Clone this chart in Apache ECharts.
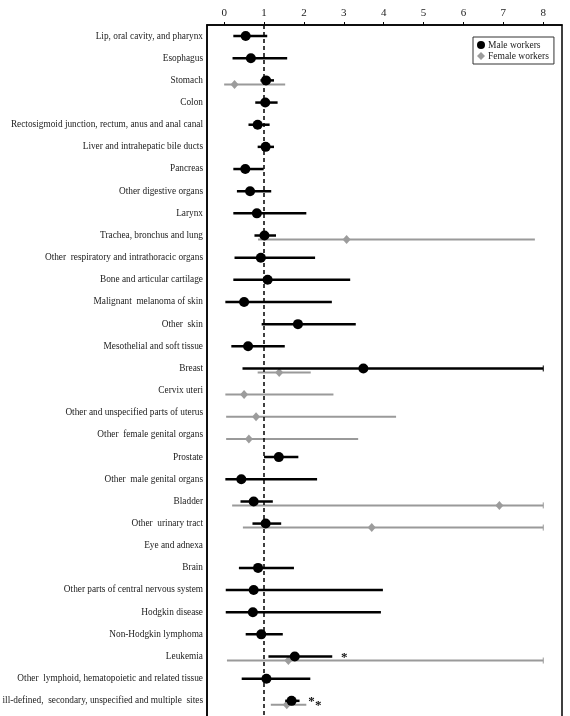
<!DOCTYPE html>
<html>
<head>
<meta charset="utf-8">
<script src="https://cdn.jsdelivr.net/npm/echarts@6/dist/echarts.min.js"></script>
<style>
  html, body { margin: 0; padding: 0; background: #fff; }
  #main { width: 570px; height: 716px; }
</style>
</head>
<body>
<div id="main"></div>
<script>
var categories = [
  'Lip, oral cavity, and pharynx',
  'Esophagus',
  'Stomach',
  'Colon',
  'Rectosigmoid junction, rectum, anus and anal canal',
  'Liver and intrahepatic bile ducts',
  'Pancreas',
  'Other digestive organs',
  'Larynx',
  'Trachea, bronchus and lung',
  'Other  respiratory and intrathoracic organs',
  'Bone and articular cartilage',
  'Malignant  melanoma of skin',
  'Other  skin',
  'Mesothelial and soft tissue',
  'Breast',
  'Cervix uteri',
  'Other and unspecified parts of uterus',
  'Other  female genital organs',
  'Prostate',
  'Other  male genital organs',
  'Bladder',
  'Other  urinary tract',
  'Eye and adnexa',
  'Brain',
  'Other parts of central nervous system',
  'Hodgkin disease',
  'Non-Hodgkin lymphoma',
  'Leukemia',
  'Other  lymphoid, hematopoietic and related tissue',
  'Other, ill-defined,  secondary, unspecified and multiple  sites'
];

var xTicks = [0, 1, 2, 3, 4, 5, 6, 7, 8];

// male workers: estimate, lower and upper limit (upper of 8 = cut at the axis end)
var maleEst  = [0.54, 0.67, 1.05, 1.03, 0.84, 1.04, 0.53, 0.65, 0.82, 1.01, 0.92, 1.09, 0.50, 1.85, 0.60, 3.49, null, null, null, 1.37, 0.43, 0.74, 1.04, null, 0.85, 0.74, 0.72, 0.93, 1.77, 1.06, 1.69];
var maleLow  = [0.23, 0.21, 0.91, 0.78, 0.61, 0.84, 0.23, 0.32, 0.23, 0.76, 0.26, 0.23, 0.03, 0.94, 0.18, 0.46, null, null, null, 1.00, 0.03, 0.41, 0.71, null, 0.37, 0.04, 0.04, 0.54, 1.11, 0.44, 1.53];
var maleHigh = [1.08, 1.58, 1.25, 1.34, 1.14, 1.25, 0.99, 1.18, 2.06, 1.30, 2.28, 3.16, 2.70, 3.30, 1.52, 8.00, null, null, null, 1.86, 2.33, 1.22, 1.43, null, 1.75, 3.98, 3.93, 1.47, 2.71, 2.16, 1.89];
var maleSig  = [0, 0, 0, 0, 0, 0, 0, 0, 0, 0, 0, 0, 0, 0, 0, 0, 0, 0, 0, 0, 0, 0, 0, 0, 0, 0, 0, 0, 1, 0, 1];

// female workers
var femaleEst  = [null, null, 0.26, null, null, null, null, null, null, 3.07, null, null, null, null, null, 1.38, 0.50, 0.80, 0.62, null, null, 6.90, 3.70, null, null, null, null, null, 1.61, null, 1.57];
var femaleLow  = [null, null, 0.00, null, null, null, null, null, null, 0.85, null, null, null, null, null, 0.84, 0.03, 0.05, 0.05, null, null, 0.20, 0.47, null, null, null, null, null, 0.07, null, 1.17];
var femaleHigh = [null, null, 1.53, null, null, null, null, null, null, 7.79, null, null, null, null, null, 2.17, 2.74, 4.31, 3.36, null, null, 8.00, 8.00, null, null, null, null, null, 8.00, null, 2.06];
var femaleSig  = [0, 0, 0, 0, 0, 0, 0, 0, 0, 0, 0, 0, 0, 0, 0, 0, 0, 0, 0, 0, 0, 0, 0, 0, 0, 0, 0, 0, 0, 0, 1];

var serif = "'Liberation Serif', 'Times New Roman', serif";

function points(est) {
  var out = [];
  est.forEach(function (v, i) { if (v != null) out.push([v, i + 1]); });
  return out;
}
function bars(lo, hi, sig) {
  var out = [];
  lo.forEach(function (v, i) { if (v != null) out.push([v, hi[i], i + 1, sig[i]]); });
  return out;
}

function whisker(color, width, offset) {
  return function (params, api) {
    var a = api.coord([api.value(0), api.value(2)]);
    var b = api.coord([api.value(1), api.value(2)]);
    var y = a[1] + offset;
    var kids = [{
      type: 'line',
      shape: { x1: a[0], y1: y, x2: b[0], y2: y },
      style: { stroke: color, lineWidth: width }
    }];
    if (api.value(1) >= 8) {
      kids.push({
        type: 'line',
        shape: { x1: b[0], y1: y - 3, x2: b[0], y2: y + 3 },
        style: { stroke: color, lineWidth: 1 }
      });
    }
    if (api.value(3)) {
      kids.push({
        type: 'text',
        x: b[0] + 12, y: y + 1,
        style: { text: '*', fill: '#111', font: 'bold 13px ' + serif, align: 'center', verticalAlign: 'middle' }
      });
    }
    return { type: 'group', children: kids };
  };
}

var chart = echarts.init(document.getElementById('main'));
chart.setOption({
  animation: false,
  grid: {
    left: 207, top: 25, width: 355, height: 698,
    show: true, borderColor: '#000', borderWidth: 1.5,
    containLabel: false, outerBoundsMode: 'none'
  },
  legend: {
    left: 473, top: 37,
    orient: 'vertical',
    data: ['Male workers', 'Female workers'],
    itemWidth: 8, itemHeight: 8, itemGap: 1,
    padding: [3, 5, 3, 4],
    borderColor: '#333', borderWidth: 1,
    textStyle: { fontFamily: serif, fontSize: 9.5, color: '#222', padding: [0, 0, 0, -2] }
  },
  xAxis: {
    type: 'value', position: 'top',
    min: -0.43, max: 8.47,
    axisLine: { show: true, onZero: false, lineStyle: { color: '#000', width: 1.5 } },
    axisTick: { show: true, customValues: xTicks, length: 3, lineStyle: { color: '#000' } },
    axisLabel: { customValues: xTicks, margin: 6, fontFamily: serif, fontSize: 11, color: '#222' },
    splitLine: { show: false }
  },
  yAxis: {
    type: 'value', inverse: true,
    min: 0.5, max: 32,
    axisLine: { show: true, onZero: false, lineStyle: { color: '#000', width: 1.5 } },
    axisTick: { show: false },
    axisLabel: {
      customValues: categories.map(function (c, i) { return i + 1; }),
      formatter: function (v) { return categories[v - 1]; },
      margin: 4, fontFamily: serif, fontSize: 9.3, color: '#222'
    },
    splitLine: { show: false }
  },
  series: [
    {
      type: 'custom', name: 'femaleCI', silent: true, z: 2,
      renderItem: whisker('#9a9a9a', 2, 4),
      data: bars(femaleLow, femaleHigh, femaleSig)
    },
    {
      type: 'scatter', name: 'Female workers', z: 3,
      symbol: 'diamond', symbolSize: [8, 9], symbolOffset: [0, 4],
      itemStyle: { color: '#9c9c9c', opacity: 1 },
      data: points(femaleEst)
    },
    {
      type: 'custom', name: 'maleCI', silent: true, z: 4,
      renderItem: whisker('#000', 2.5, 0),
      data: bars(maleLow, maleHigh, maleSig)
    },
    {
      type: 'scatter', name: 'Male workers', z: 5,
      symbol: 'circle', symbolSize: 10,
      itemStyle: { color: '#000', opacity: 1 },
      data: points(maleEst),
      markLine: {
        silent: true, symbol: 'none', label: { show: false },
        lineStyle: { color: '#000', type: [4, 3], width: 1.5 },
        data: [{ xAxis: 1 }]
      }
    }
  ]
});
</script>
</body>
</html>
